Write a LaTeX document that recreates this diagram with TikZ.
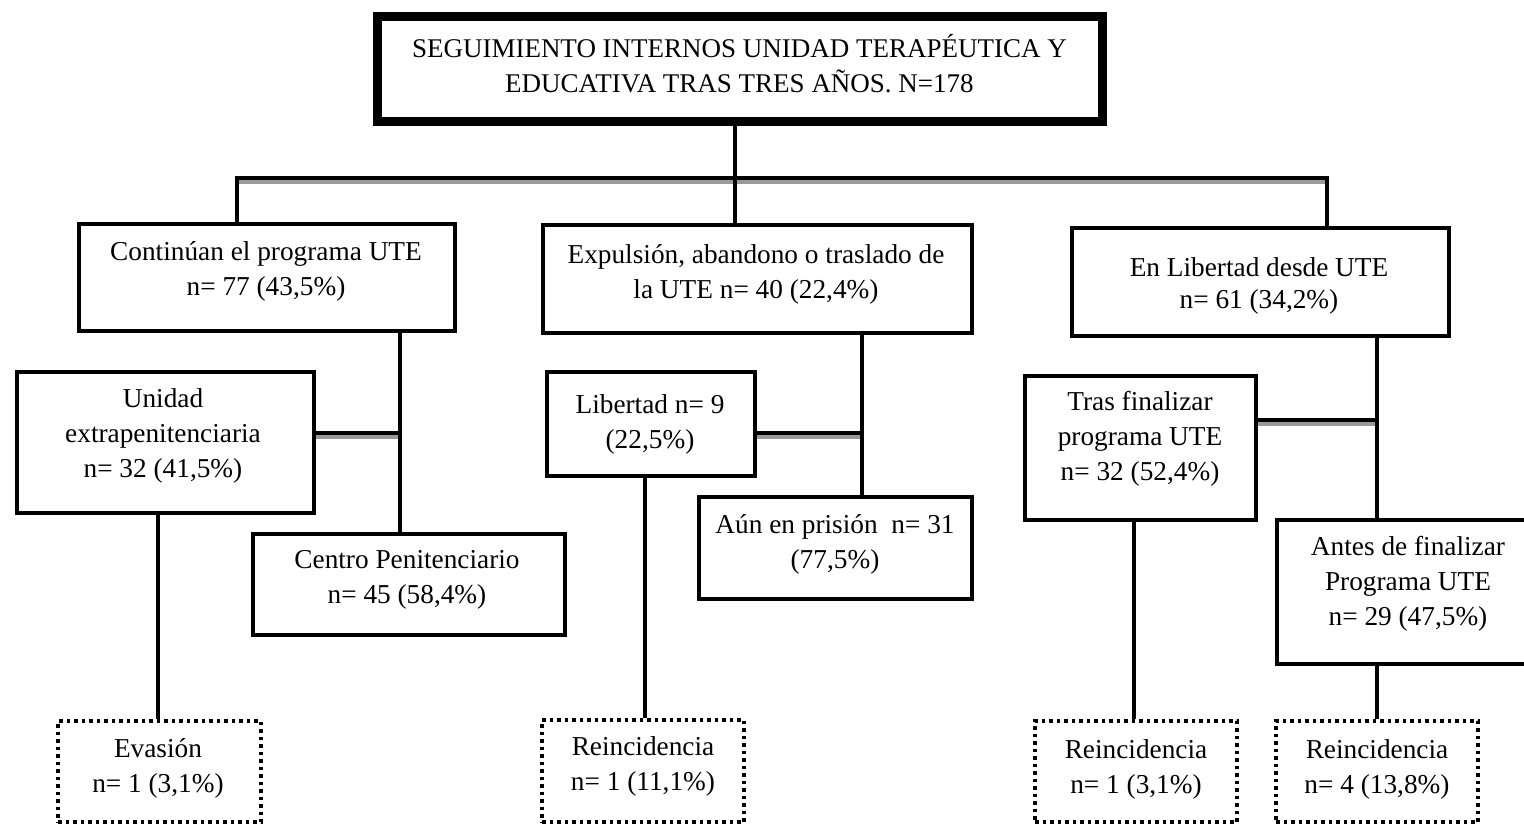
\documentclass[tikz,border=0pt]{standalone}
\usepackage{fontspec}
\setmainfont{Liberation Serif}
\newcommand{\tstr}{\rule{0pt}{22pt}}
\newcommand{\ttstr}{\rule{0pt}{24pt}}
\begin{document}
\begin{tikzpicture}[x=1pt,y=-1pt,
  box/.style={draw, line width=4pt, inner sep=0pt, minimum width=#1},
  box/.default=100pt,
  dotbox/.style={draw, line width=3.5pt, dash pattern=on 3.5pt off 4pt, inner sep=0pt},
  label/.style={anchor=north, inner sep=0pt, align=center,
    font=\fontsize{27.3}{35}\selectfont},
  titlelabel/.style={anchor=north, inner sep=0pt, align=center,
    font=\fontsize{27}{35}\selectfont},
  link/.style={line width=4pt, line join=miter},
  linkshadow/.style={line width=4pt, draw=black!40}
]
\useasboundingbox (0,0) rectangle (1524,826);
\clip (0,0) rectangle (1524,826);

% title box
\node[draw, line width=9pt, inner sep=0pt, minimum width=725pt, minimum height=105pt] (title) at (739.5,69.5) {};
\node[titlelabel] (titletxt) at (739.5,33) {\ttstr SEGUIMIENTO INTERNOS UNIDAD TERAPÉUTICA Y\\EDUCATIVA TRAS TRES AÑOS. N=178};

% first level
\node[box=376pt, minimum height=107pt] (b1) at (267,277.5) {};
\node[label] (b1t) at (266,238) {\tstr Continúan el programa UTE\\n= 77 (43,5\%)};
\node[box=429pt, minimum height=108pt] (b2) at (757.5,279) {};
\node[label] (b2t) at (756,241) {\tstr Expulsión, abandono o traslado de\\la UTE n= 40 (22,4\%)};
\node[box=377pt, minimum height=108pt] (b3) at (1260.5,282) {};
\node[label, font=\fontsize{27.3}{32}\selectfont] (b3t) at (1259,254) {\tstr En Libertad desde UTE\\n= 61 (34,2\%)};

% second level
\node[box=297pt, minimum height=141pt] (b4) at (165.5,442.5) {};
\node[label] (b4t) at (163,385) {\tstr Unidad\\extrapenitenciaria\\n= 32 (41,5\%)};
\node[box=312pt, minimum height=101pt] (b5) at (409,584.5) {};
\node[label] (b5t) at (407,546) {\tstr Centro Penitenciario\\n= 45 (58,4\%)};
\node[box=208pt, minimum height=104pt] (b6) at (651,424) {};
\node[label] (b6t) at (650,391) {\tstr Libertad n= 9\\(22,5\%)};
\node[box=273pt, minimum height=102pt] (b7) at (835.5,548) {};
\node[label] (b7t) at (835,511) {\tstr Aún en prisión\enspace n= 31\\(77,5\%)};
\node[box=231pt, minimum height=144pt] (b8) at (1140.5,448) {};
\node[label] (b8t) at (1140,388) {\tstr Tras finalizar\\programa UTE\\n= 32 (52,4\%)};
\node[box=263pt, minimum height=144pt] (b9) at (1408.5,592) {};
\node[label] (b9t) at (1408,533) {\tstr Antes de finalizar\\Programa UTE\\n= 29 (47,5\%)};

% outcomes
\node[dotbox, minimum width=203pt, minimum height=101pt] (d1) at (159.5,771.5) {};
\node[label] (d1t) at (158,735) {\tstr Evasión\\n= 1 (3,1\%)};
\node[dotbox, minimum width=202pt, minimum height=102pt] (d2) at (643,771) {};
\node[label] (d2t) at (643,733) {\tstr Reincidencia\\n= 1 (11,1\%)};
\node[dotbox, minimum width=202pt, minimum height=101pt] (d3) at (1136,771.5) {};
\node[label] (d3t) at (1136,736) {\tstr Reincidencia\\n= 1 (3,1\%)};
\node[dotbox, minimum width=202pt, minimum height=101pt] (d4) at (1377,771.5) {};
\node[label] (d4t) at (1377,736) {\tstr Reincidencia\\n= 4 (13,8\%)};

% junction points
\coordinate (trunk) at (735,178);
\coordinate (busL) at (237,178);
\coordinate (busR) at (1327,178);
\coordinate (j1) at (400,433);
\coordinate (j2) at (862,433);
\coordinate (j3) at (1377,420);

% soft shadows under the horizontal links
\draw[linkshadow] ([yshift=-4pt]busL) -- ([yshift=-4pt]busR);
\draw[linkshadow] ([yshift=-4pt]b4.east |- j1) -- ([yshift=-4pt]j1);
\draw[linkshadow] ([yshift=-4pt]b6.east |- j2) -- ([yshift=-4pt]j2);
\draw[linkshadow] ([yshift=-4pt]b8.east |- j3) -- ([yshift=-4pt]j3);

% links
\draw[link] (trunk |- title.south) -- (trunk |- b2.north);
\draw[link] (busL |- b1.north) -- (busL) -- (busR) -- (busR |- b3.north);
\draw[link] (j1 |- b1.south) -- (j1 |- b5.north);
\draw[link] (b4.east |- j1) -- (j1);
\draw[link] (j2 |- b2.south) -- (j2 |- b7.north);
\draw[link] (b6.east |- j2) -- (j2);
\draw[link] (j3 |- b3.south) -- (j3 |- b9.north);
\draw[link] (b8.east |- j3) -- (j3);
\draw[link] (158,0 |- b4.south) -- (158,0 |- d1.north);
\draw[link] (645,0 |- b6.south) -- (645,0 |- d2.north);
\draw[link] (1134,0 |- b8.south) -- (1134,0 |- d3.north);
\draw[link] (j3 |- b9.south) -- (j3 |- d4.north);
\end{tikzpicture}
\end{document}
